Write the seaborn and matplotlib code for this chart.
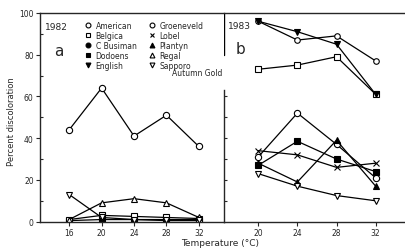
import matplotlib
matplotlib.use("Agg")
import matplotlib.pyplot as plt
from matplotlib.lines import Line2D
import seaborn as sns

# 1982 (panel a)
temps_82 = [16, 20, 24, 28, 32]
american_82 = [44, 64, 41, 51, 36]
belgica_82 = [1, 3, 2.5, 2, 1.5]
dodoens_82 = [0.5, 1, 1, 0.5, 0.5]
regal_82 = [1, 9, 11, 9, 2]
sapporo_82 = [13, 2, 1, 1, 1]

# 1983 (panel b)
temps_83 = [20, 24, 28, 32]
english_83 = [96, 91, 85, 61]
groeneveld_83 = [96, 87, 89, 77]
belgica_83 = [73, 75, 79, 61]
american_83 = [31, 52, 37, 21]
dodoens_83 = [27, 38.5, 30, 24]
plantyn_83 = [28, 19, 39, 17]
lobel_83 = [34, 32, 26, 28]
sapporo_83 = [23, 17, 12.5, 10]

cultivars = ["American", "Belgica", "C Busiman", "Dodoens", "English",
             "Groeneveld", "Lobel", "Plantyn", "Regal", "Sapporo"]

# marker, filled?
styles = {
    "American": ("o", False), "Belgica": ("s", False), "C Busiman": ("o", True),
    "Dodoens": ("s", True), "English": ("v", True), "Groeneveld": ("o", False),
    "Lobel": ("x", True), "Plantyn": ("^", True), "Regal": ("^", False),
    "Sapporo": ("v", False),
}

sns.set_style("ticks")
plt.rcParams["font.family"] = ["DejaVu Sans"]

fig = plt.figure(figsize=(4.05, 2.53), dpi=100)
axA = fig.add_axes([40 / 405, 0.12, 184 / 405, 0.825])
axB = fig.add_axes([224 / 405, 0.12, 181 / 405, 0.825])


def draw(ax, x, y, name, ms=4):
    m, filled = styles[name]
    sns.lineplot(x=x, y=y, ax=ax, color="black", lw=0.9, marker=m,
                 markersize=ms, markeredgecolor="black",
                 markerfacecolor="black" if filled else "white",
                 markeredgewidth=0.8, legend=False)


draw(axA, temps_82, american_82, "American", 4.5)
draw(axA, temps_82, dodoens_82, "Dodoens")
draw(axA, temps_82, belgica_82, "Belgica")
draw(axA, temps_82, regal_82, "Regal")
draw(axA, temps_82, sapporo_82, "Sapporo")

draw(axB, temps_83, belgica_83, "Belgica")
draw(axB, temps_83, groeneveld_83, "Groeneveld")
draw(axB, temps_83, english_83, "English")
draw(axB, temps_83, american_83, "American", 4.5)
draw(axB, temps_83, dodoens_83, "Dodoens")
draw(axB, temps_83, plantyn_83, "Plantyn")
draw(axB, temps_83, lobel_83, "Lobel")
draw(axB, temps_83, sapporo_83, "Sapporo")

for ax in (axA, axB):
    ax.set_ylim(0, 100)
    ax.spines["right"].set_visible(False)
    for s in ax.spines.values():
        s.set_linewidth(1.0)
    ax.tick_params(axis="x", direction="out", length=3, width=0.8,
                   labelsize=5.5, pad=1.5)
    ax.set_xlabel("")
    ax.set_ylabel("")

axA.set_xlim(12.4, 35.1)
axA.set_xticks(temps_82)
axA.set_yticks([0, 20, 40, 60, 80, 100])
axA.set_yticks([10, 30, 50, 70, 90], minor=True)
axA.tick_params(axis="y", which="major", direction="out", length=3, width=0.8,
                labelsize=5.5, pad=1.5)
axA.tick_params(axis="y", which="minor", direction="in", length=2.5, width=0.8)

axB.set_xlim(16.5, 35)
axB.set_xticks(temps_83)
axB.set_yticks([10, 20, 30, 40, 50, 60])
axB.tick_params(axis="y", direction="in", length=2.5, width=0.8,
                labelleft=False)
axB.spines["left"].set_bounds(0, 63)
axB.axvline(16.5, ymin=0.8, ymax=1.0, color="black", lw=1.0)

axA.text(0.025, 0.935, "1982", transform=axA.transAxes, fontsize=6.5, va="center")
axA.text(0.075, 0.82, "a", transform=axA.transAxes, fontsize=11, va="center")
axB.text(0.02, 0.94, "1983", transform=axB.transAxes, fontsize=6.5, va="center")
axB.text(0.065, 0.83, "b", transform=axB.transAxes, fontsize=11, va="center")

handles = []
for name in cultivars:
    m, filled = styles[name]
    handles.append(Line2D([], [], linestyle="none", marker=m, color="black",
                          markersize=3.5, markeredgewidth=0.8,
                          markerfacecolor="black" if filled else "white"))
axA.legend(handles, cultivars, loc="upper left", ncol=2, frameon=False,
           bbox_to_anchor=(85 / 405, 1 - 22 / 253), bbox_transform=fig.transFigure,
           fontsize=5.5, handlelength=0.8, handletextpad=0.6, labelspacing=0.12,
           columnspacing=1.6, borderpad=0, borderaxespad=0)
fig.text(172 / 405, 1 - 74 / 253, "Autumn Gold", fontsize=5.5, va="center")

fig.text(12 / 405, 0.52, "Percent discoloration", rotation=90, fontsize=6,
         ha="center", va="center")
fig.text(220 / 405, 5 / 253, "Temperature (\u00b0C)", fontsize=6.5,
         ha="center", va="bottom")

fig.savefig("out.png", dpi=100)
